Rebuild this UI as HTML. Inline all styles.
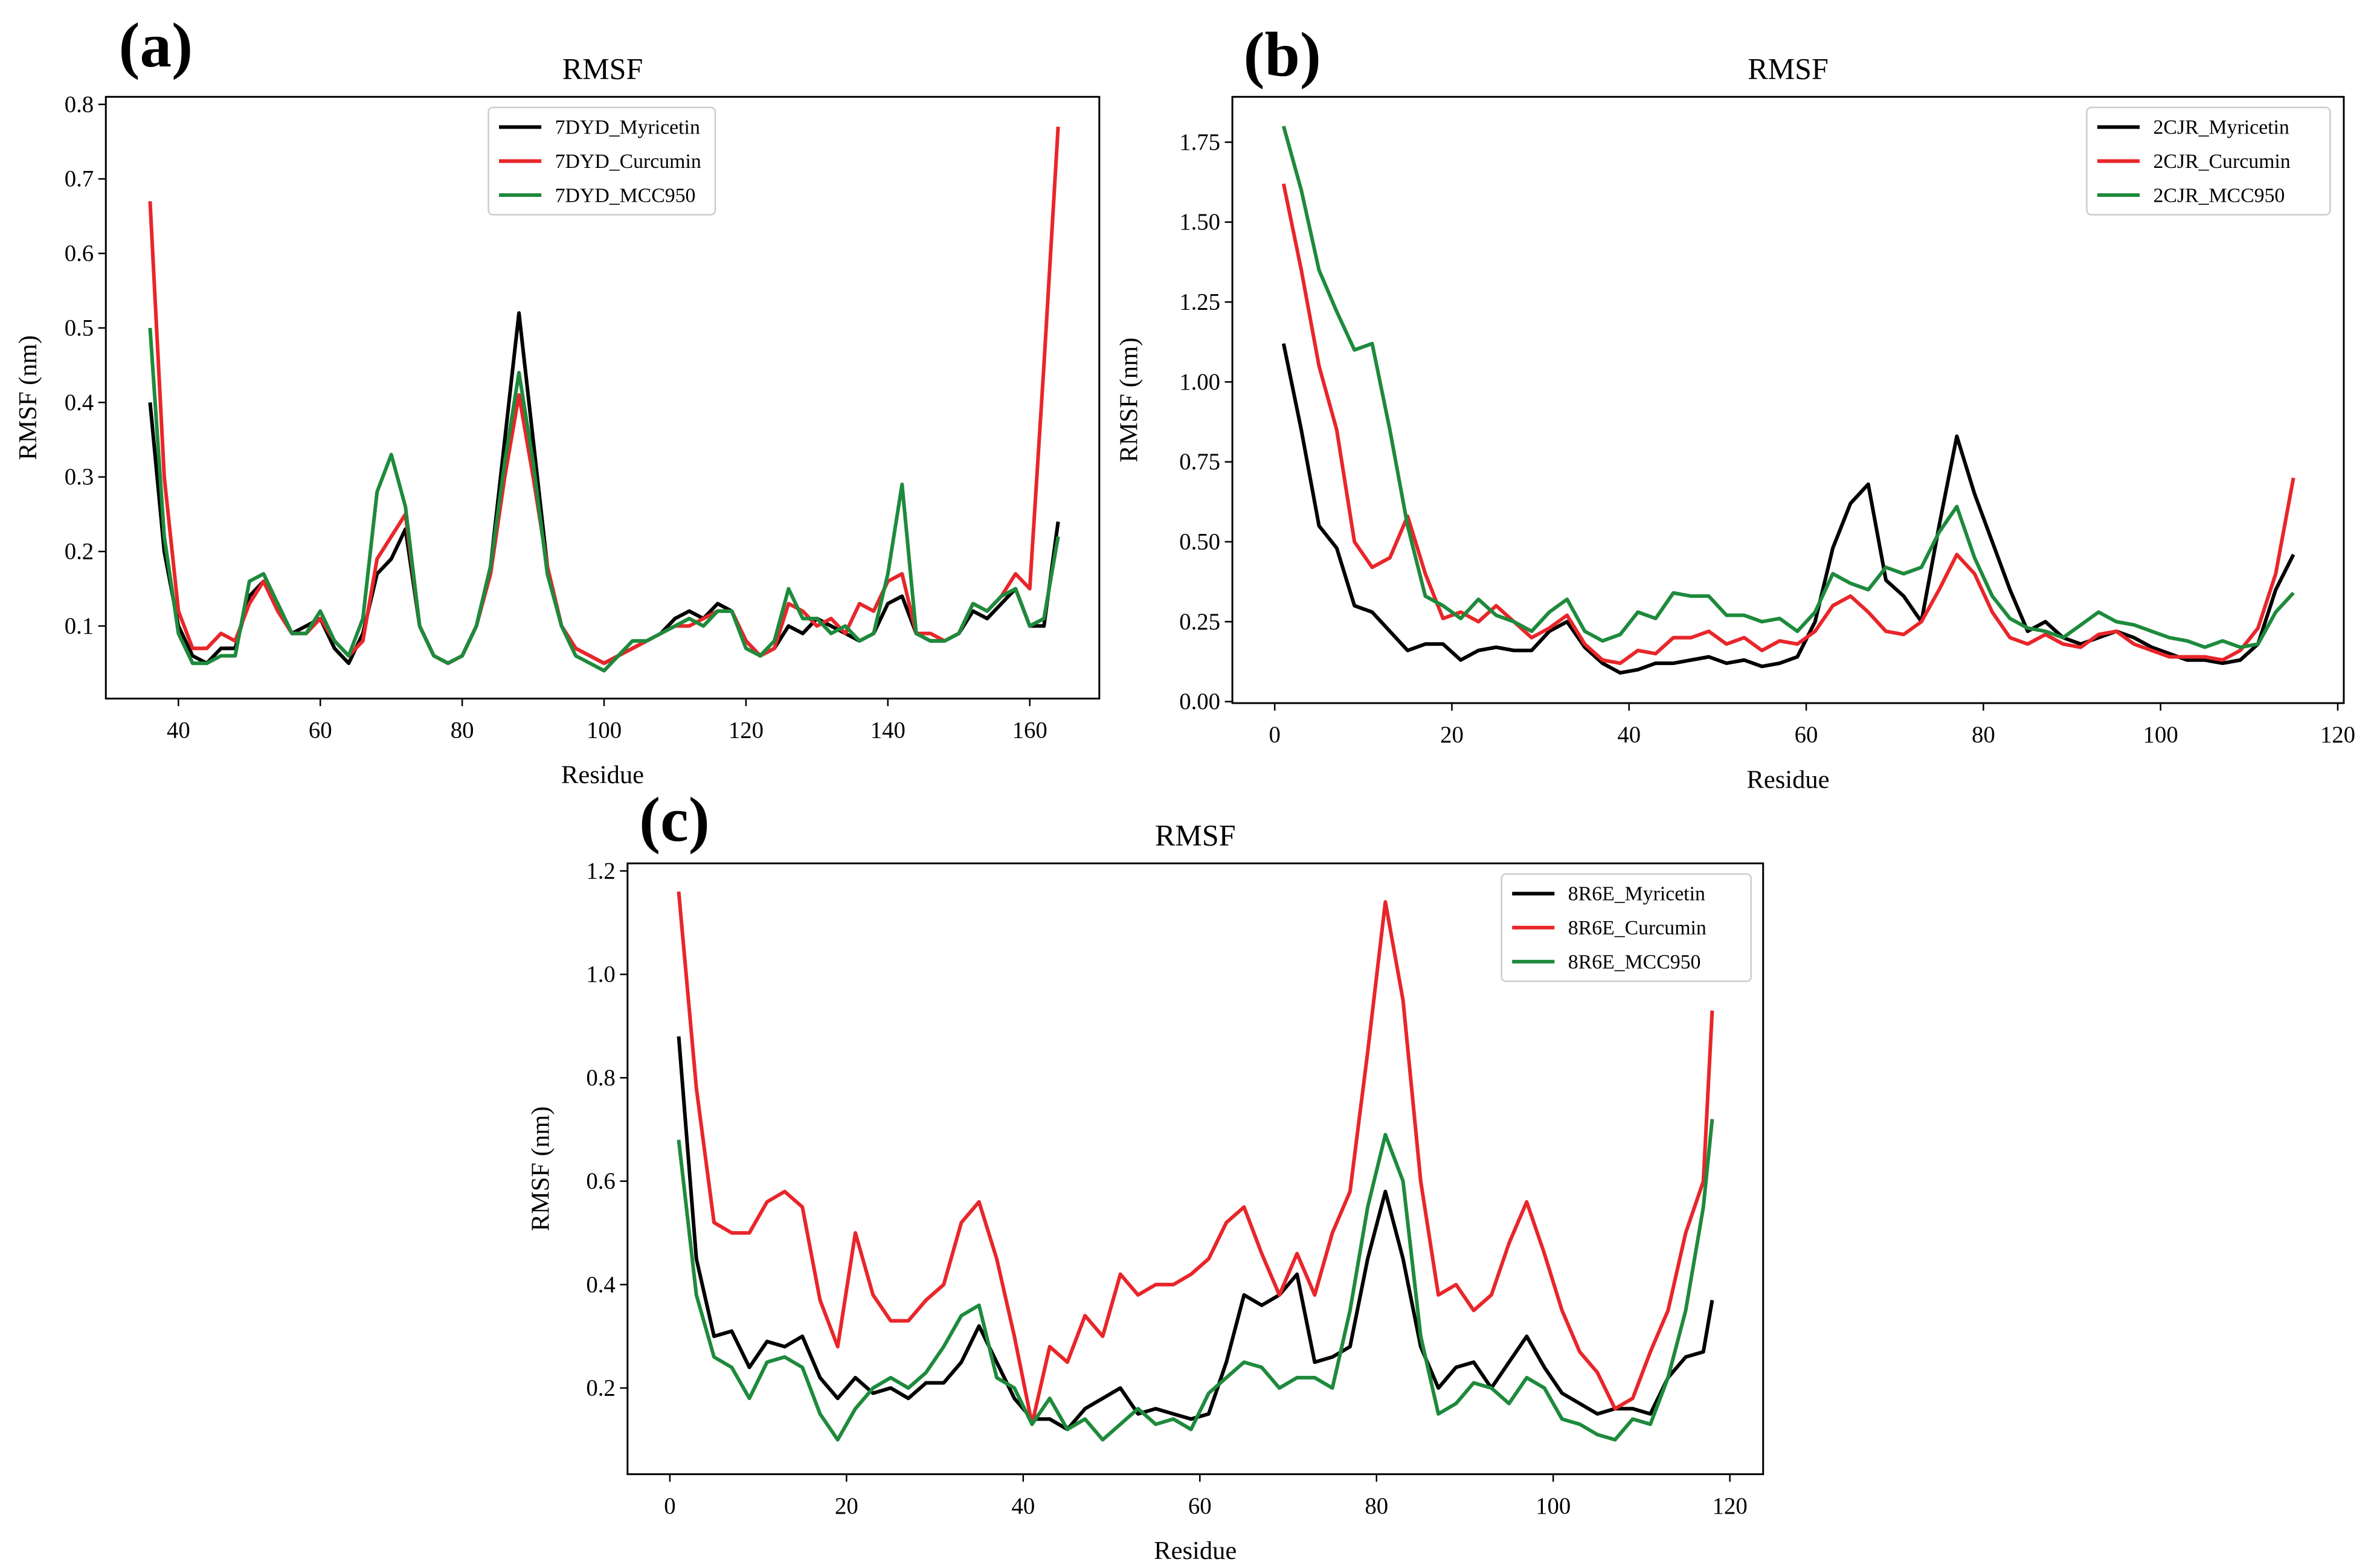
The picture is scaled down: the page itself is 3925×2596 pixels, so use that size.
<!DOCTYPE html>
<html><head><meta charset="utf-8">
<style>
html,body{margin:0;padding:0;background:#fff;}
svg{display:block;font-family:"Liberation Serif",serif;}
</style></head>
<body>
<svg id="fig" width="3925" height="2596" viewBox="0 0 1568 1037" xmlns="http://www.w3.org/2000/svg"></svg>
<script>
// ---- Panel (a) data ----
const resA = [36,38,40,42,44,46,48,50,52,54,56,58,60,62,64,66,68,70,72,74,76,78,80,82,84,86,88,90,92,94,96,98,100,102,104,106,108,110,112,114,116,118,120,122,124,126,128,130,132,134,136,138,140,142,144,146,148,150,152,154,156,158,160,162,164];
const aMyr = [0.40,0.20,0.10,0.06,0.05,0.07,0.07,0.14,0.16,0.13,0.09,0.10,0.11,0.07,0.05,0.09,0.17,0.19,0.23,0.10,0.06,0.05,0.06,0.10,0.18,0.35,0.52,0.35,0.18,0.10,0.07,0.06,0.05,0.06,0.07,0.08,0.09,0.11,0.12,0.11,0.13,0.12,0.08,0.06,0.07,0.10,0.09,0.11,0.10,0.09,0.08,0.09,0.13,0.14,0.09,0.08,0.08,0.09,0.12,0.11,0.13,0.15,0.10,0.10,0.24];
const aCur = [0.67,0.30,0.12,0.07,0.07,0.09,0.08,0.13,0.16,0.12,0.09,0.09,0.11,0.08,0.06,0.08,0.19,0.22,0.25,0.10,0.06,0.05,0.06,0.10,0.17,0.30,0.41,0.30,0.18,0.10,0.07,0.06,0.05,0.06,0.07,0.08,0.09,0.10,0.10,0.11,0.12,0.12,0.08,0.06,0.07,0.13,0.12,0.10,0.11,0.09,0.13,0.12,0.16,0.17,0.09,0.09,0.08,0.09,0.13,0.12,0.14,0.17,0.15,0.45,0.77];
const aMcc = [0.50,0.22,0.09,0.05,0.05,0.06,0.06,0.16,0.17,0.13,0.09,0.09,0.12,0.08,0.06,0.11,0.28,0.33,0.26,0.10,0.06,0.05,0.06,0.10,0.18,0.32,0.44,0.32,0.17,0.10,0.06,0.05,0.04,0.06,0.08,0.08,0.09,0.10,0.11,0.10,0.12,0.12,0.07,0.06,0.08,0.15,0.11,0.11,0.09,0.10,0.08,0.09,0.17,0.29,0.09,0.08,0.08,0.09,0.13,0.12,0.14,0.15,0.10,0.11,0.22];
const xTicksA = [40,60,80,100,120,140,160];
const yTicksA = [0.1,0.2,0.3,0.4,0.5,0.6,0.7,0.8];
// ---- Panel (b) data ----
const resB = [1,3,5,7,9,11,13,15,17,19,21,23,25,27,29,31,33,35,37,39,41,43,45,47,49,51,53,55,57,59,61,63,65,67,69,71,73,75,77,79,81,83,85,87,89,91,93,95,97,99,101,103,105,107,109,111,113,115];
const bMyr = [1.12,0.85,0.55,0.48,0.30,0.28,0.22,0.16,0.18,0.18,0.13,0.16,0.17,0.16,0.16,0.22,0.25,0.17,0.12,0.09,0.10,0.12,0.12,0.13,0.14,0.12,0.13,0.11,0.12,0.14,0.25,0.48,0.62,0.68,0.38,0.33,0.25,0.55,0.83,0.65,0.50,0.35,0.22,0.25,0.20,0.18,0.20,0.22,0.20,0.17,0.15,0.13,0.13,0.12,0.13,0.18,0.35,0.46];
const bCur = [1.62,1.35,1.05,0.85,0.50,0.42,0.45,0.58,0.40,0.26,0.28,0.25,0.30,0.25,0.20,0.23,0.27,0.18,0.13,0.12,0.16,0.15,0.20,0.20,0.22,0.18,0.20,0.16,0.19,0.18,0.22,0.30,0.33,0.28,0.22,0.21,0.25,0.35,0.46,0.40,0.28,0.20,0.18,0.21,0.18,0.17,0.21,0.22,0.18,0.16,0.14,0.14,0.14,0.13,0.16,0.23,0.40,0.70];
const bMcc = [1.80,1.60,1.35,1.22,1.10,1.12,0.85,0.55,0.33,0.30,0.26,0.32,0.27,0.25,0.22,0.28,0.32,0.22,0.19,0.21,0.28,0.26,0.34,0.33,0.33,0.27,0.27,0.25,0.26,0.22,0.28,0.40,0.37,0.35,0.42,0.40,0.42,0.53,0.61,0.45,0.33,0.26,0.23,0.22,0.20,0.24,0.28,0.25,0.24,0.22,0.20,0.19,0.17,0.19,0.17,0.18,0.28,0.34];
const xTicksB = [0,20,40,60,80,100,120];
const yTicksB = [0,0.25,0.5,0.75,1.0,1.25,1.5,1.75];
// ---- Panel (c) data ----
const resC = [1,3,5,7,9,11,13,15,17,19,21,23,25,27,29,31,33,35,37,39,41,43,45,47,49,51,53,55,57,59,61,63,65,67,69,71,73,75,77,79,81,83,85,87,89,91,93,95,97,99,101,103,105,107,109,111,113,115,117,118];
const cMyr = [0.88,0.45,0.30,0.31,0.24,0.29,0.28,0.30,0.22,0.18,0.22,0.19,0.20,0.18,0.21,0.21,0.25,0.32,0.25,0.18,0.14,0.14,0.12,0.16,0.18,0.20,0.15,0.16,0.15,0.14,0.15,0.25,0.38,0.36,0.38,0.42,0.25,0.26,0.28,0.45,0.58,0.45,0.28,0.20,0.24,0.25,0.20,0.25,0.30,0.24,0.19,0.17,0.15,0.16,0.16,0.15,0.22,0.26,0.27,0.37];
const cCur = [1.16,0.78,0.52,0.50,0.50,0.56,0.58,0.55,0.37,0.28,0.50,0.38,0.33,0.33,0.37,0.40,0.52,0.56,0.45,0.30,0.13,0.28,0.25,0.34,0.30,0.42,0.38,0.40,0.40,0.42,0.45,0.52,0.55,0.46,0.38,0.46,0.38,0.50,0.58,0.85,1.14,0.95,0.60,0.38,0.40,0.35,0.38,0.48,0.56,0.46,0.35,0.27,0.23,0.16,0.18,0.27,0.35,0.50,0.60,0.93];
const cMcc = [0.68,0.38,0.26,0.24,0.18,0.25,0.26,0.24,0.15,0.10,0.16,0.20,0.22,0.20,0.23,0.28,0.34,0.36,0.22,0.20,0.13,0.18,0.12,0.14,0.10,0.13,0.16,0.13,0.14,0.12,0.19,0.22,0.25,0.24,0.20,0.22,0.22,0.20,0.35,0.55,0.69,0.60,0.30,0.15,0.17,0.21,0.20,0.17,0.22,0.20,0.14,0.13,0.11,0.10,0.14,0.13,0.22,0.35,0.55,0.72];
const xTicksC = [0,20,40,60,80,100,120];
const yTicksC = [0.2,0.4,0.6,0.8,1.0,1.2];

const NS = "http://www.w3.org/2000/svg";
const svg = document.getElementById('fig');
const COLORS = {k:"#000000", r:"#e8262a", g:"#1e8a3c"};
function el(tag, attrs, parent){
  const e = document.createElementNS(NS, tag);
  for (const k in attrs) e.setAttribute(k, attrs[k]);
  (parent||svg).appendChild(e);
  return e;
}
function txt(s, attrs, parent){ const t = el('text', attrs, parent); t.textContent = s; return t; }

function panel(cfg){
  const g = el('g', {});
  
  
  const sx = v => cfg.x0px + (v - cfg.x0v) * (cfg.x1px - cfg.x0px) / (cfg.x1v - cfg.x0v);
  const sy = v => cfg.y0px + (v - cfg.y0v) * (cfg.y1px - cfg.y0px) / (cfg.y1v - cfg.y0v);
  cfg.series.forEach(s => {
    const d = s.vals.map((v,i) => (i?'L':'M') + sx(s.res[i]).toFixed(2) + ' ' + sy(v).toFixed(2)).join(' ');
    const p = el('path', {d:d, fill:'none', stroke:s.color, 'stroke-width':2.4, 'stroke-linejoin':'round'}, g);
    
    
  });
  const fr = el('rect', {x:cfg.L, y:cfg.T, width:cfg.R-cfg.L, height:cfg.B-cfg.T, fill:'none', stroke:'#000', 'stroke-width':1.2}, g);
  
  
  const xa = el('g', {}, g);
  
  
  cfg.xticks.forEach(v => {
    const x = sx(v);
    el('line', {x1:x, x2:x, y1:cfg.B, y2:cfg.B+5, stroke:'#000', 'stroke-width':1}, xa);
    const t = txt(String(v), {x:x, y:cfg.B+26, 'font-size':15.5, 'text-anchor':'middle'}, xa);
    
    
  });
  const ya = el('g', {}, g);
  
  
  cfg.yticks.forEach(v => {
    const y = sy(v);
    el('line', {x1:cfg.L-5, x2:cfg.L, y1:y, y2:y, stroke:'#000', 'stroke-width':1}, ya);
    const t = txt(v.toFixed(cfg.ydec), {x:cfg.L-8, y:y+5, 'font-size':15.5, 'text-anchor':'end'}, ya);
    
    
  });
  const title = txt('RMSF', {x:(cfg.L+cfg.R)/2, y:cfg.T-12, 'font-size':20, 'text-anchor':'middle'}, g);
  
  
  const xl = txt('Residue', {x:(cfg.L+cfg.R)/2, y:cfg.B+56, 'font-size':17, 'text-anchor':'middle'}, g);
  
  
  const yl = txt('RMSF (nm)', {x:0, y:0, 'font-size':17, 'text-anchor':'middle', transform:`translate(${cfg.ylx},${(cfg.T+cfg.B)/2}) rotate(-90)`}, g);
  
  
  const pl = txt(cfg.label, {x:cfg.plx, y:cfg.ply, 'font-size':42, 'font-weight':'bold', 'text-anchor':'middle'}, g);
  
  
  const lg = el('g', {}, g);
  
  
  el('rect', {x:cfg.lgx, y:cfg.lgy, width:cfg.lgw, height:71, rx:3, fill:'#fff', stroke:'#ccc', 'stroke-width':1}, lg);
  cfg.series.forEach((s,i) => {
    const yy = cfg.lgy + 13 + i*22.5;
    el('line', {x1:cfg.lgx+7, x2:cfg.lgx+35, y1:yy, y2:yy, stroke:s.color, 'stroke-width':2.4}, lg);
    const t = txt(s.label, {x:cfg.lgx+44, y:yy+4.5, 'font-size':13.5}, lg);
    
    
  });
}

panel({name:'panel-a', label:'(a)', plx:103, ply:44, L:70, R:727, T:64, B:462,
  x0v:40, x0px:118, x1v:160, x1px:681, y0v:0.1, y0px:414, y1v:0.8, y1px:69,
  xticks:xTicksA, yticks:yTicksA, ydec:1, ylx:24, lgx:323, lgy:71, lgw:150,
  series:[{key:'7dyd-myricetin',label:'7DYD_Myricetin',color:COLORS.k,res:resA,vals:aMyr},
          {key:'7dyd-curcumin',label:'7DYD_Curcumin',color:COLORS.r,res:resA,vals:aCur},
          {key:'7dyd-mcc950',label:'7DYD_MCC950',color:COLORS.g,res:resA,vals:aMcc}]});
panel({name:'panel-b', label:'(b)', plx:848, ply:50, L:815, R:1550, T:64, B:465,
  x0v:0, x0px:843, x1v:120, x1px:1546, y0v:0, y0px:464, y1v:1.75, y1px:94,
  xticks:xTicksB, yticks:yTicksB, ydec:2, ylx:752, lgx:1380, lgy:71, lgw:161,
  series:[{key:'2cjr-myricetin',label:'2CJR_Myricetin',color:COLORS.k,res:resB,vals:bMyr},
          {key:'2cjr-curcumin',label:'2CJR_Curcumin',color:COLORS.r,res:resB,vals:bCur},
          {key:'2cjr-mcc950',label:'2CJR_MCC950',color:COLORS.g,res:resB,vals:bMcc}]});
panel({name:'panel-c', label:'(c)', plx:446, ply:556, L:415, R:1166, T:571, B:975,
  x0v:0, x0px:443, x1v:120, x1px:1144, y0v:0.2, y0px:918, y1v:1.2, y1px:576,
  xticks:xTicksC, yticks:yTicksC, ydec:1, ylx:363, lgx:993, lgy:578, lgw:165,
  series:[{key:'8r6e-myricetin',label:'8R6E_Myricetin',color:COLORS.k,res:resC,vals:cMyr},
          {key:'8r6e-curcumin',label:'8R6E_Curcumin',color:COLORS.r,res:resC,vals:cCur},
          {key:'8r6e-mcc950',label:'8R6E_MCC950',color:COLORS.g,res:resC,vals:cMcc}]});
</script>
</body></html>
